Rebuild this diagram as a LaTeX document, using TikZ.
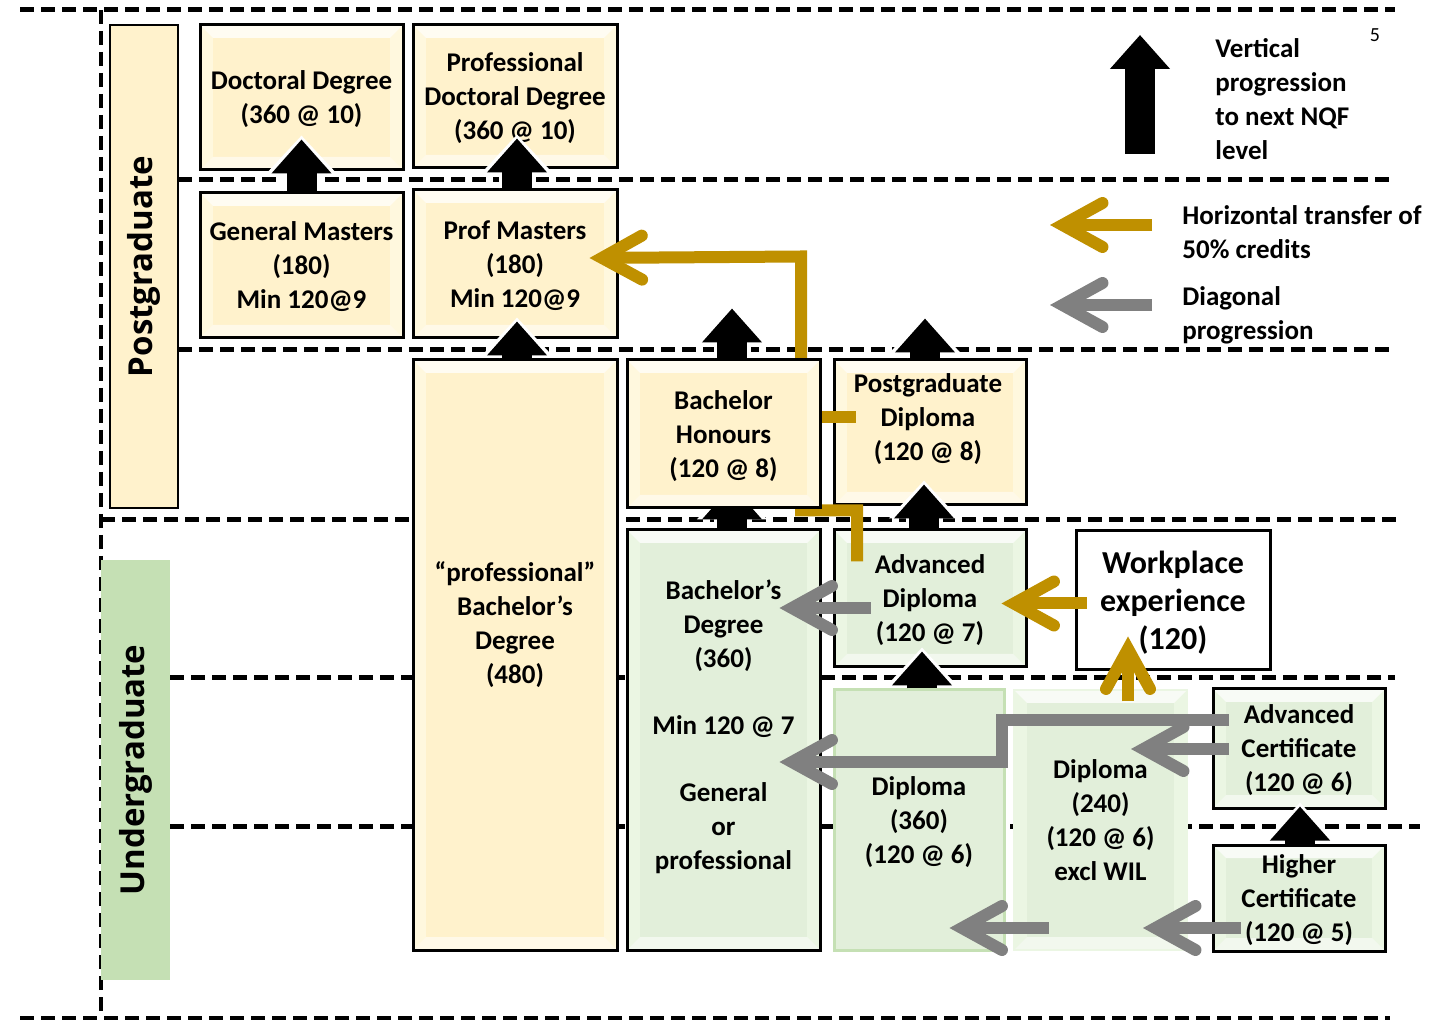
\documentclass[tikz,border=0pt]{standalone}
\usepackage{fontspec}
\setmainfont{Carlito}
\newfontfamily\bandfont{Open Sans}
\usetikzlibrary{arrows.meta}
\definecolor{cream}{HTML}{FFF2CC}
\definecolor{creamlight}{HTML}{FFF8DE}
\definecolor{sage}{HTML}{E2EFDA}
\definecolor{sagelight}{HTML}{EBF6E3}
\definecolor{sagedark}{HTML}{C5E0B4}
\definecolor{gold}{HTML}{BF9000}
\definecolor{slate}{HTML}{808080}
\newcommand{\qualfont}{\fontsize{13.5pt}{17pt}\selectfont\bfseries}
\tikzset{
  nqf/.style={line width=2.5pt, dash pattern=on 7pt off 3.5pt},
  bevel/.style={path picture={
    \fill[#1] ([shift={(6.5pt,-6.5pt)}]path picture bounding box.north west) rectangle
      ([shift={(-6.5pt,6.5pt)}]path picture bounding box.south east);
    \fill[white!75!#1] (path picture bounding box.north west) -- (path picture bounding box.north east)
      -- ([shift={(-6.5pt,-6.5pt)}]path picture bounding box.north east)
      -- ([shift={(6.5pt,-6.5pt)}]path picture bounding box.north west) -- cycle;
    \fill[white!55!#1] (path picture bounding box.south west) -- (path picture bounding box.south east)
      -- ([shift={(-6.5pt,6.5pt)}]path picture bounding box.south east)
      -- ([shift={(6.5pt,6.5pt)}]path picture bounding box.south west) -- cycle;}},
  qual/.style={draw, line width=1.5pt, align=center, inner sep=0pt, text depth=0pt, font=\qualfont},
  ybox/.style={qual, fill=creamlight, bevel=cream},
  gbox/.style={qual, fill=sagelight, bevel=sage},
  txt/.style={align=center, inner sep=0pt, font=\qualfont},
  band/.style={rotate=90, inner sep=0pt, font=\bandfont\fontsize{16.5pt}{20pt}\selectfont\bfseries},
  vert/.style={line width=15pt, -{Triangle[width=29pt,length=17pt]},
    preaction={draw=white, line width=18.5pt, shorten >=-2pt,
      -{Triangle[width=34pt,length=19pt]}}},
  flow/.style={line width=6pt, line join=miter,
    -{Straight Barb[length=20pt,width=22pt,line cap=round]}},
  horiz/.style={flow, draw=gold},
  diag/.style={flow, draw=slate},
}
\begin{document}
\begin{tikzpicture}[x=0.5pt, y=-0.5pt]
\useasboundingbox (0,0) rectangle (1445,1020);
% NQF level lines
\foreach \y/\a/\b in {10/20/1395, 180/178/1395, 350/178/1390, 520/101/1400,
  678/170/1395, 826/170/1420, 1018/20/1390}
  \draw[nqf] (\a,\y) -- (\b,\y);
\draw[nqf, line width=2pt] (101,10) -- (101,1018);
% bands
\node[band, draw, line width=1pt, fill=cream, minimum width=241.5pt, minimum height=34pt] (pg) at (144,266.5) {Postgraduate};
\node[band, fill=sagedark, minimum width=210pt, minimum height=34.5pt] (ug) at (135.5,770) {Undergraduate};
% qualifications
\node[ybox, minimum width=101.5pt, minimum height=72.5pt] (doc) at (301.5,97.5) {Doctoral Degree\\(360 @ 10)};
\node[ybox, minimum width=102pt, minimum height=71.5pt] (pdoc) at (515,96.5) {Professional\\Doctoral Degree\\(360 @ 10)};
\node[ybox, minimum width=101.5pt, minimum height=72.5pt] (gm) at (301.5,265.5) {General Masters\\(180)\\Min 120@9};
\node[ybox, minimum width=102pt, minimum height=74pt] (pm) at (515,264) {Prof Masters\\(180)\\Min 120@9};
\node[ybox, minimum width=102pt, minimum height=295pt] (pbd) at (515,655) {};
\node[txt] (pbdt) at (515,625) {“professional”\\Bachelor’s\\Degree\\(480)};
\node[ybox, minimum width=96pt, minimum height=72.5pt] (pgd) at (930,432.5) {};
\node[txt] (pgdt) at (928,419) {Postgraduate\\Diploma\\(120 @ 8)};
\node[gbox, minimum width=96.5pt, minimum height=210pt] (bd) at (723.5,740) {};
\node[txt] (bdt) at (723.5,727) {Bachelor’s\\Degree\\(360)\\[16.5pt]Min 120 @ 7\\[16.5pt]General\\or\\professional};
\node[gbox, minimum width=96pt, minimum height=68.5pt] (adip) at (930,598.5) {Advanced\\Diploma\\(120 @ 7)};
\node[qual, fill=white, minimum width=97pt, minimum height=69.5pt, font=\fontsize{16pt}{19pt}\selectfont\bfseries] (work) at (1173,600.5) {Workplace\\experience\\(120)};
\node[qual, fill=sage, draw=sagedark, minimum width=85pt, minimum height=130pt] (dip360) at (919,820) {Diploma\\(360)\\(120 @ 6)};
\node[gbox, draw=sagelight, line width=1pt, minimum width=86.5pt, minimum height=130pt] (dip240) at (1100.5,820) {Diploma\\(240)\\(120 @ 6)\\excl WIL};
\node[gbox, minimum width=86pt, minimum height=59.5pt] (acert) at (1299,748.5) {Advanced\\Certificate\\(120 @ 6)};
\node[gbox, minimum width=86pt, minimum height=53pt] (hcert) at (1299,898) {Higher\\Certificate\\(120 @ 5)};
% transfers passing behind Bachelor Honours
\draw[horiz] ([shift={(-73,33)}]adip.north) -- ++(0,-51) -- ++(-56,0) -- ++(0,-254) -- ([shift={(-29,-6)}]pm.east);
\draw[gold, line width=6pt] ([shift={(23,-15.5)}]pgd.west) -- ++(-57,0);
\draw[vert] ([shift={(8.5,0)}]bd.north) -- ++(0,-43);
\node[ybox, minimum width=96.5pt, minimum height=74pt] (bh) at (723.5,434) {Bachelor\\Honours\\(120 @ 8)};
% vertical progression
\draw[vert] (gm.north) -- ([shift={(0,-32)}]doc.south);
\draw[vert] ([shift={(2,0)}]pm.north) -- ([shift={(2,-31)}]pdoc.south);
\draw[vert] ([shift={(2,0)}]pbd.north) -- ([shift={(2,-18)}]pm.south);
\draw[vert] ([shift={(8.5,0)}]bh.north) -- ++(0,-50);
\draw[vert] ([shift={(-5,0)}]pgd.north) -- ++(0,-40);
\draw[vert] ([shift={(-6,0)}]adip.north) -- ([shift={(-6,-22)}]pgd.south);
\draw[vert] ([shift={(3,0)}]dip360.north) -- ([shift={(-8,-17)}]adip.south);
\draw[vert] ([shift={(1,0)}]hcert.north) -- ([shift={(1,-3)}]acert.south);
% horizontal and diagonal
\draw[horiz] ([shift={(12,3)}]work.west) -- ([shift={(-26,5)}]adip.east);
\draw[horiz] ([shift={(-45,30)}]work.south) -- ([shift={(-45,-35)}]work.south);
\draw[diag] ([shift={(38,9.5)}]adip.west) -- ([shift={(-42,-132)}]bd.east);
\draw[diag] ([shift={(17,-28.5)}]acert.west) -- ++(-227,0) -- ++(0,42) -- ([shift={(-42,22)}]bd.east);
\draw[diag] ([shift={(17,0.5)}]acert.west) -- ([shift={(-57,-71)}]dip240.east);
\draw[diag] ([shift={(29,30)}]hcert.west) -- ([shift={(-45,108)}]dip240.east);
\draw[diag] ([shift={(35.5,108)}]dip240.west) -- ([shift={(-56,108)}]dip360.east);
% key
\coordinate (vfoot) at (1140,154);
\coordinate (vtip) at (1140,35);
\draw[vert] (vfoot) -- (vtip);
\node[anchor=west, align=left, inner sep=0pt, font=\qualfont] (vkey) at (1215,99) {Vertical\\progression\\to next NQF\\level};
\coordinate (hfoot) at (1152,225);
\coordinate (htip) at (1050,225);
\draw[horiz] (hfoot) -- (htip);
\node[anchor=west, align=left, inner sep=0pt, font=\qualfont] (hkey) at (1182,232) {Horizontal transfer of\\50\% credits};
\coordinate (dfoot) at (1152,305);
\coordinate (dtip) at (1050,305);
\draw[diag] (dfoot) -- (dtip);
\node[anchor=west, align=left, inner sep=0pt, font=\qualfont] (dkey) at (1182,315) {Diagonal\\progression};
\node[inner sep=0pt, font=\fontsize{10pt}{12pt}\selectfont] (pgno) at (1375,35) {5};
\end{tikzpicture}
\end{document}
